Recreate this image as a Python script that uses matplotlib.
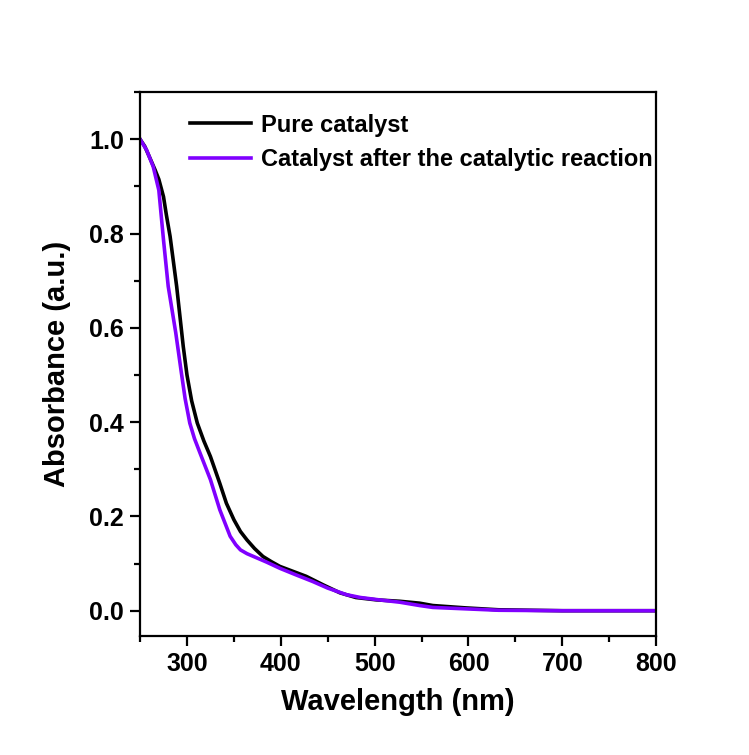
import numpy as np
import matplotlib
matplotlib.use("Agg")
import matplotlib.pyplot as plt
from matplotlib.ticker import MultipleLocator

# UV-vis absorbance
wl_pure = [250, 255, 259, 266, 270, 275, 278, 282, 289, 296, 300, 305, 311, 318, 325,
           335, 342, 350, 357, 364, 372, 381, 390, 399, 427, 445, 463, 480, 502, 527,
           548, 562, 597, 632, 700, 800]
abs_pure = [1.0, 0.985, 0.967, 0.935, 0.915, 0.878, 0.84, 0.794, 0.688, 0.561, 0.50,
            0.445, 0.398, 0.36, 0.327, 0.27, 0.228, 0.193, 0.168, 0.15, 0.132, 0.115,
            0.104, 0.094, 0.073, 0.055, 0.038, 0.028, 0.023, 0.02, 0.016, 0.011,
            0.006, 0.002, 0.0, 0.0]

wl_used = [250, 257, 264, 270, 275, 280, 288, 294, 298, 303, 308, 314, 325, 335, 346,
           352, 357, 364, 371, 385, 399, 415, 434, 450, 470, 485, 505, 527, 548, 562,
           597, 632, 700, 800]
abs_used = [1.0, 0.977, 0.942, 0.892, 0.786, 0.688, 0.59, 0.505, 0.45, 0.398, 0.365,
            0.334, 0.278, 0.214, 0.158, 0.14, 0.129, 0.121, 0.115, 0.103, 0.09, 0.077,
            0.062, 0.048, 0.034, 0.028, 0.023, 0.018, 0.011, 0.007, 0.004, 0.001,
            0.0, 0.0]

labels = ["Pure catalyst", "Catalyst after the catalytic reaction"]
colors = ["#000000", "#8000FF"]

plt.rcParams['font.family'] = ['Liberation Sans', 'DejaVu Sans']
plt.rcParams['font.weight'] = 'bold'

fig = plt.figure(figsize=(7.49, 7.55), dpi=100)
ax = fig.add_axes([0.187, 0.158, 0.689, 0.720])

ax.plot(wl_pure, abs_pure, color=colors[0], lw=2.6, label=labels[0])
ax.plot(wl_used, abs_used, color=colors[1], lw=2.6, label=labels[1])

ax.set_xlim(250, 800)
ax.set_ylim(-0.053, 1.1)
ax.xaxis.set_minor_locator(MultipleLocator(50))
ax.yaxis.set_minor_locator(MultipleLocator(0.1))
ax.set_yticks([0.0, 0.2, 0.4, 0.6, 0.8, 1.0])
ax.set_xticks([300, 400, 500, 600, 700, 800])

ax.tick_params(which='major', direction='out', length=7.5, width=1.6, labelsize=18, pad=4)
ax.tick_params(which='minor', direction='out', length=4.5, width=1.6)
ax.tick_params(top=False, right=False)
for s in ax.spines.values():
    s.set_linewidth(1.6)
for lab in ax.get_xticklabels() + ax.get_yticklabels():
    lab.set_fontweight('bold')

ax.set_xlabel("Wavelength (nm)", fontsize=21, fontweight='bold', labelpad=9)
ax.set_ylabel("Absorbance (a.u.)", fontsize=21, fontweight='bold', labelpad=13)

ax.legend(loc='upper left', bbox_to_anchor=(0.078, 0.978), frameon=False,
          prop={'size': 17, 'weight': 'bold'}, handlelength=2.6,
          handletextpad=0.4, labelspacing=0.48, borderaxespad=0)

fig.savefig("out.png", dpi=100, facecolor='white')
